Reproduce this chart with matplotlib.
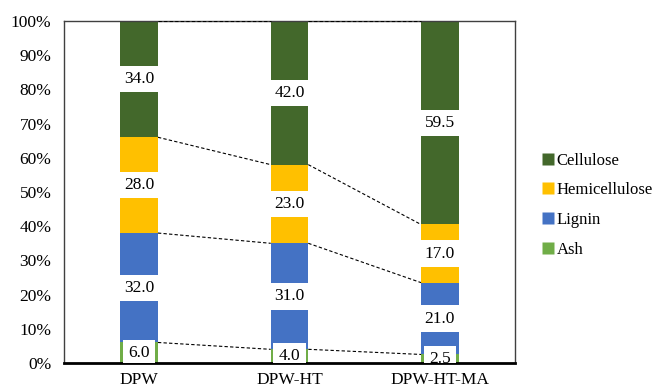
import matplotlib
matplotlib.use("Agg")
import matplotlib.pyplot as plt
from matplotlib.lines import Line2D
import numpy as np

plt.rcParams['font.family'] = ['Liberation Serif', 'DejaVu Serif']

samples = ["DPW", "DPW-HT", "DPW-HT-MA"]
components = ["Ash", "Lignin", "Hemicellulose", "Cellulose"]
ash = [6.0, 4.0, 2.5]
lignin = [32.0, 31.0, 21.0]
hemicellulose = [28.0, 23.0, 17.0]
cellulose = [34.0, 42.0, 59.5]
colors = {"Ash": "#70AD47", "Lignin": "#4472C4",
          "Hemicellulose": "#FFC000", "Cellulose": "#43682B"}

series = {"Ash": ash, "Lignin": lignin,
          "Hemicellulose": hemicellulose, "Cellulose": cellulose}

fig = plt.figure(figsize=(6.54, 3.89), dpi=100)
ax = fig.add_axes([64/654, 26/389, 451/654, 342/389])

x = np.arange(len(samples))
width = 0.25
bottom = np.zeros(len(samples))
tops = []
for name in components:
    vals = np.array(series[name], dtype=float)
    ax.bar(x, vals, width, bottom=bottom, color=colors[name],
           edgecolor="none", zorder=2)
    for xi, b, v in zip(x, bottom, vals):
        ax.text(xi, b + v / 2, f"{v:.1f}", ha="center", va="center",
                fontsize=12.5, color="black", zorder=4, clip_on=True,
                bbox=dict(boxstyle="square,pad=0.3", fc="white", ec="none"))
    bottom = bottom + vals
    tops.append(bottom.copy())

# series lines joining the top of each stacked segment
for t in tops:
    for i in range(len(samples) - 1):
        ax.plot([x[i] + width / 2, x[i + 1] - width / 2], [t[i], t[i + 1]],
                color="black", lw=0.8, ls=(0, (3, 2)), zorder=3)

ax.set_xlim(-0.5, 2.5)
ax.set_ylim(0, 100)
ax.set_xticks(x)
ax.set_xticklabels(samples, fontsize=12.5)
ax.set_yticks(np.arange(0, 101, 10))
ax.set_yticklabels([f"{v}%" for v in range(0, 101, 10)], fontsize=12.5)
ax.tick_params(axis="y", length=0, pad=9)
ax.tick_params(axis="x", length=0, pad=6.5)
for side in ["left", "top", "right"]:
    ax.spines[side].set_color("#404040")
    ax.spines[side].set_linewidth(1.0)
ax.spines["bottom"].set_color("black")
ax.spines["bottom"].set_linewidth(2.0)

handles = [Line2D([], [], marker="s", ls="none", markersize=8,
                  markerfacecolor=colors[n], markeredgecolor="none")
           for n in components[::-1]]
fig.legend(handles, components[::-1], loc="upper left",
           bbox_to_anchor=(535/654, 1 - 146/389), frameon=False,
           fontsize=12, handlelength=0.7, handletextpad=0.2,
           labelspacing=0.82, borderaxespad=0)

fig.savefig("out.png", dpi=100)
